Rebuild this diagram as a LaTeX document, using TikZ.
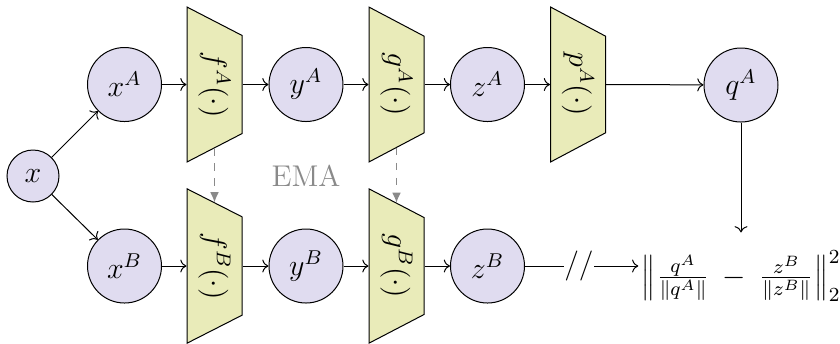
\documentclass[tikz,border=0pt]{standalone}
\usetikzlibrary{shapes.geometric,arrows.meta}
\definecolor{nodefill}{HTML}{E0DCF0}
\definecolor{trapfill}{HTML}{E9EBB9}
\definecolor{emagray}{HTML}{8A8A8A}
\tikzset{
  var/.style={circle, draw, fill=nodefill, minimum size=29.6pt, inner sep=0pt},
  smallvar/.style={circle, draw, fill=nodefill, minimum size=20.8pt, inner sep=0pt},
  net/.style={trapezium, draw, fill=trapfill, rotate=-90, trapezium angle=61,
    trapezium stretches=true, minimum width=62pt, minimum height=22pt, inner sep=1pt},
  conn/.style={->, >=To},
  emaarrow/.style={dashed, draw=emagray, -{Latex[length=4pt,width=3.5pt]}},
}
\begin{document}
\begin{tikzpicture}[x=0.4pt, y=-0.4pt, font=\fontsize{12}{14}\selectfont]
\useasboundingbox (0,0) rectangle (840,343);
% top branch
\node[smallvar] (x) at (33,176) {$x$};
\node[var] (xA) at (124.5,84.5) {$x^A$};
\node[net] (f) at (214.5,84.5) {$f^A(\cdot)$};
\node[var] (yA) at (306,84.5) {$y^A$};
\node[net] (g) at (396.5,84.5) {$g^A(\cdot)$};
\node[var] (zA) at (487.5,84.5) {$z^A$};
\node[net] (p) at (578,84.5) {$p^A(\cdot)$};
\node[var] (qA) at (741,85) {$q^A$};
% bottom branch
\node[var] (xB) at (124.5,266) {$x^B$};
\node[net] (fB) at (214.5,266) {$f^B(\cdot)$};
\node[var] (yB) at (306,266) {$y^B$};
\node[net] (gB) at (396.5,266) {$g^B(\cdot)$};
\node[var] (zB) at (487.5,266) {$z^B$};
\node[inner sep=0pt] (sg) at (579,266) {$//$};
\node[inner xsep=1pt, inner ysep=7pt] (loss) at (741,276) {$\Big\|\mkern1mu\frac{q^A}{\|q^A\|}\:-\:\frac{z^B}{\|z^B\|}\mkern1mu\Big\|_2^2$};
\node[text=emagray] (ema) at (306,176) {EMA};
% connectors
\draw[conn] (x) -- (xA);
\draw[conn] (x) -- (xB);
\draw[conn] (xA) -- (f.bottom side);
\draw[conn] (f.top side) -- (yA);
\draw[conn] (yA) -- (g.bottom side);
\draw[conn] (g.top side) -- (zA);
\draw[conn] (zA) -- (p.bottom side);
\draw[conn] (p.top side) -- (qA);
\draw[conn] (xB) -- (fB.bottom side);
\draw[conn] (fB.top side) -- (yB);
\draw[conn] (yB) -- (gB.bottom side);
\draw[conn] (gB.top side) -- (zB);
\draw (zB) -- (sg);
\draw[conn] (sg) -- (sg -| loss.west);
\draw[conn] (qA) -- (qA |- loss.north);
\draw[emaarrow] (f.right side) -- (fB.left side);
\draw[emaarrow] (g.right side) -- (gB.left side);
\end{tikzpicture}
\end{document}
